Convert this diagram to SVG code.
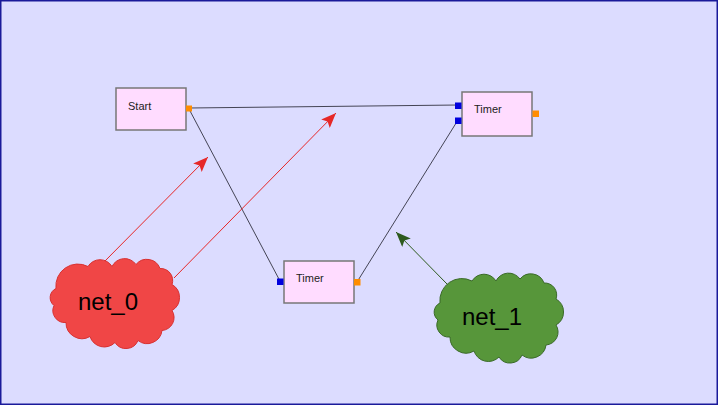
<svg xmlns="http://www.w3.org/2000/svg" width="718" height="405" viewBox="0 0 718 405">
<style>
.box{fill:#ffdcff;stroke:#777777;stroke-width:1.5}
.lbl{font-family:"Liberation Sans",Arial,sans-serif;font-size:11px;fill:#222222}
.net{font-family:"Liberation Sans",Arial,sans-serif;font-size:24px;fill:#000000;text-anchor:middle}
.in{fill:#0000dd}
.out{fill:#ff8c00}
.conn{stroke:#444455;stroke-width:1;fill:none}
.red{stroke:#e62828;stroke-width:1;fill:none}
.grn{stroke:#2d5a1e;stroke-width:1;fill:none}
</style>
<defs>
<marker id="ahRed" markerUnits="userSpaceOnUse" markerWidth="16" markerHeight="12" refX="15" refY="6" orient="auto">
<path d="M0,0 L15,6 L0,12 L3,6 z" fill="#e62828"/>
</marker>
<marker id="ahGrn" markerUnits="userSpaceOnUse" markerWidth="16" markerHeight="12" refX="15" refY="6" orient="auto">
<path d="M0,0 L15,6 L0,12 L3,6 z" fill="#2d5a1e"/>
</marker>
<path id="cloud" d="M -57 -15 A 22 22 0 0 1 -25 -37 A 14 14 0 0 1 -1 -37 A 14 14 0 0 1 23 -39 A 14 14 0 0 1 47 -35 A 12 12 0 0 1 59 -19 A 15 15 0 0 1 59 7 A 13 13 0 0 1 49 27 A 15 15 0 0 1 25 37 A 13 13 0 0 1 2 39 A 15 15 0 0 1 -23 33 A 16 16 0 0 1 -47 19 A 12 12 0 0 1 -59 2 A 10 10 0 0 1 -57 -15 Z"/>
</defs>
<rect x="0.75" y="0.75" width="716.5" height="403.5" fill="#dcdcff" stroke="#1a1a9a" stroke-width="1.5"/>
<g id="connectors">
<line class="conn" x1="189" y1="108" x2="458" y2="105"/>
<line class="conn" x1="189" y1="109" x2="280" y2="281"/>
<line class="conn" x1="357" y1="282" x2="458" y2="120"/>
<line class="red" x1="104" y1="262" x2="208" y2="157" marker-end="url(#ahRed)"/>
<line class="red" x1="174" y1="278" x2="336" y2="113" marker-end="url(#ahRed)"/>
<line class="grn" x1="448" y1="285" x2="396" y2="232" marker-end="url(#ahGrn)"/>
</g>
<g id="start">
<rect class="box" x="116" y="88" width="70" height="42"/>
<text class="lbl" x="128" y="110">Start</text>
<rect class="out" x="186" y="105.5" width="6" height="6"/>
</g>
<g id="timer1">
<rect class="box" x="462" y="92" width="70" height="44"/>
<text class="lbl" x="474" y="113">Timer</text>
<rect class="in" x="455" y="102.5" width="6.5" height="6.5"/>
<rect class="in" x="455" y="117.5" width="6.5" height="6.5"/>
<rect class="out" x="532.5" y="110.5" width="6.5" height="6.5"/>
</g>
<g id="timer2">
<rect class="box" x="284" y="261" width="70" height="42"/>
<text class="lbl" x="296" y="282">Timer</text>
<rect class="in" x="277" y="278.5" width="6.5" height="6.5"/>
<rect class="out" x="354" y="279" width="6.5" height="6.5"/>
</g>
<g id="net_0">
<use href="#cloud" transform="translate(113,303.5)" fill="#f04646" stroke="#d83030" stroke-width="1"/>
<text class="net" x="108" y="310">net_0</text>
</g>
<g id="net_1">
<use href="#cloud" transform="translate(497,318)" fill="#57963a" stroke="#3a6a28" stroke-width="1"/>
<text class="net" x="492" y="325">net_1</text>
</g>
</svg>
